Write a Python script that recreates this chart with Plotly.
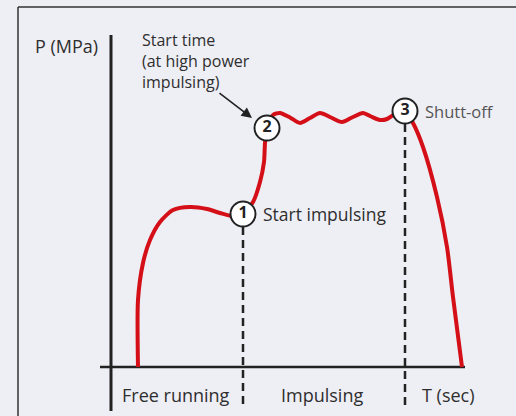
import plotly.graph_objects as go

# pressure curve (t in arbitrary time units, P in arbitrary MPa units)
curve_t = [2.7, 2.7, 3.2, 3.9, 4.9, 6.2, 7.9, 9.6, 10.9, 12.1, 13.2,
           14.2, 14.9, 15.3, 15.4, 15.6,
           16.2, 16.9, 17.9, 18.9, 19.9, 20.9, 22.0, 23.1, 24.1, 25.2, 26.0,
           26.9, 27.6, 28.4, 29.4,
           30.2, 31.2, 32.6, 33.6, 34.2, 35.1]
curve_p = [0, 6.7, 10.4, 12.7, 14.5, 15.7, 16.0, 15.8, 15.4, 15.1, 15.3,
           16.5, 18.5, 20.5, 22.4, 23.9,
           25.2, 25.4, 24.95, 24.4, 24.9, 25.4, 24.95, 24.5, 24.95, 25.4, 25.05,
           24.7, 24.8, 25.3, 25.6,
           24.4, 22.0, 17.0, 12.0, 7.0, 0]

# numbered events
event_num = ["1", "2", "3"]
event_t = [13.2, 15.6, 29.4]
event_p = [15.3, 23.9, 25.6]
event_label = ["Start impulsing", "", "Shutt-off"]
dashed_events = [0, 2]

phase_labels = ["Free running", "Impulsing", "T (sec)"]
phase_t = [6.45, 21.1, 33.7]

start_time_text = "Start time<br>(at high power<br>impulsing)"

RED = "#d40f17"
INK = "#222222"
TXT = "#2e2e2e"
BG = "#eeeff5"
FONT = "Open Sans"

fig = go.Figure()

# dashed markers for events 1 and 3
for i in dashed_events:
    fig.add_trace(go.Scatter(
        x=[event_t[i], event_t[i]], y=[event_p[i], -3.8],
        mode="lines", line=dict(color=INK, width=2.5, dash="8px,5px"),
        showlegend=False, hoverinfo="skip"
    ))

# axes drawn as lines through the data scale
fig.add_trace(go.Scatter(x=[0, 0], y=[-4.4, 33.2], mode="lines",
                         line=dict(color=INK, width=3), showlegend=False, hoverinfo="skip"))
fig.add_trace(go.Scatter(x=[-1.1, 35.4], y=[0, 0], mode="lines",
                         line=dict(color=INK, width=2.5), showlegend=False, hoverinfo="skip"))

# pressure curve
fig.add_trace(go.Scatter(
    x=curve_t, y=curve_p, mode="lines",
    line=dict(color=RED, width=4, shape="spline", smoothing=0.7),
    showlegend=False, hoverinfo="skip"
))

# numbered circles
fig.add_trace(go.Scatter(
    x=event_t, y=event_p, mode="markers+text",
    marker=dict(size=25, color="white", line=dict(color=INK, width=2)),
    text=["<b>%s</b>" % n for n in event_num], textposition="middle center",
    textfont=dict(family=FONT, size=16, color=INK),
    showlegend=False, hoverinfo="skip"
))

annotations = []
for t, p, lab in zip(event_t, event_p, event_label):
    if lab:
        shut = lab == "Shutt-off"
        annotations.append(dict(
            x=t + 1.75, y=p, text=lab, showarrow=False, xanchor="left", yanchor="middle",
            font=dict(family=FONT, size=16.5 if shut else 17.5, color="#555555" if shut else TXT)
        ))

for t, lab in zip(phase_t, phase_labels):
    annotations.append(dict(x=t, y=-2.8, text=lab, showarrow=False,
                            xanchor="center", yanchor="middle",
                            font=dict(family=FONT, size=18, color=TXT)))

annotations.append(dict(x=-1.1, y=32.1, text="P (MPa)", showarrow=False,
                        xanchor="right", yanchor="middle",
                        font=dict(family=FONT, size=18, color=TXT)))

annotations.append(dict(x=2.9, y=30.6, text=start_time_text, showarrow=False,
                        xanchor="left", yanchor="middle", align="left",
                        font=dict(family=FONT, size=16, color=TXT)))

# arrow to event 2
annotations.append(dict(x=14.1, y=24.9, ax=10.7, ay=27.5, axref="x", ayref="y",
                        text="", showarrow=True, arrowhead=2, arrowsize=1.3,
                        arrowwidth=1.6, arrowcolor=INK, standoff=0))

fig.update_layout(
    width=516, height=416,
    margin=dict(l=0, r=0, t=0, b=0),
    paper_bgcolor=BG, plot_bgcolor=BG,
    xaxis=dict(range=[-11.1, 40.5], visible=False, fixedrange=True),
    yaxis=dict(range=[-4.9, 36.7], visible=False, fixedrange=True),
    annotations=annotations,
    shapes=[
        dict(type="line", xref="paper", yref="paper", x0=18 / 516, x1=1,
             y0=1 - 7 / 416, y1=1 - 7 / 416, line=dict(color="#333333", width=1.5)),
        dict(type="line", xref="paper", yref="paper", x0=18 / 516, x1=18 / 516,
             y0=0, y1=1 - 7 / 416, line=dict(color="#333333", width=1.5)),
    ],
)

fig.write_html(
    "out.html",
    config={"displayModeBar": False},
    post_script="document.body.style.margin='0';document.body.style.background='%s';" % BG,
)
